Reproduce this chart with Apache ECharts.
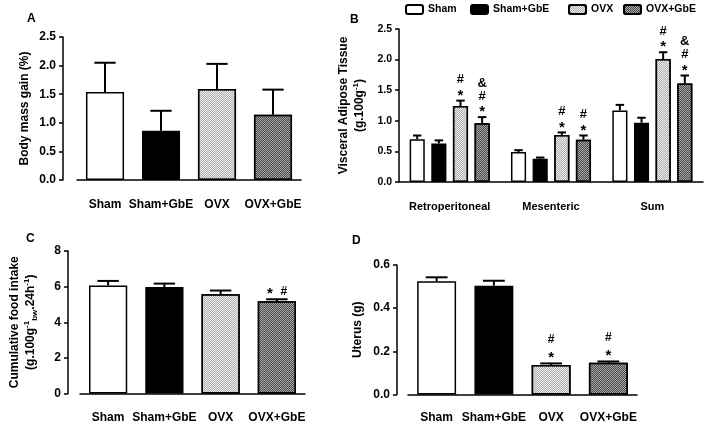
<!DOCTYPE html>
<html>
<head>
<meta charset="utf-8">
<script src="https://cdn.jsdelivr.net/npm/echarts@6/dist/echarts.min.js"></script>
<style>
  html, body { margin: 0; padding: 0; background: #fff; }
  #chart-container { width: 708px; height: 432px; }
</style>
</head>
<body>
<div id="chart-container"></div>
<script>
// Groups (A, C, D categories and B legend)
const groups = ["Sham", "Sham+GbE", "OVX", "OVX+GbE"];

// A - body mass gain (%)
const massGain = [1.54, 0.86, 1.59, 1.14];
const massGainSem = [0.51, 0.35, 0.44, 0.44];

// B - visceral adipose tissue (g.100g-1)
const depots = ["Retroperitoneal", "Mesenteric", "Sum"];
const fatSham = [0.70, 0.49, 1.17];
const fatShamSem = [0.06, 0.03, 0.09];
const fatShamGbE = [0.63, 0.38, 0.97];
const fatShamGbESem = [0.05, 0.02, 0.08];
const fatOvx = [1.24, 0.77, 2.01];
const fatOvxSem = [0.09, 0.04, 0.11];
const fatOvxGbE = [0.96, 0.69, 1.61];
const fatOvxGbESem = [0.10, 0.07, 0.13];
const fatOvxMarks = ["#\n*", "#\n*", "#\n*"];
const fatOvxGbEMarks = ["&\n#\n*", "#\n*", "&\n#\n*"];

// C - cumulative food intake
const foodIntake = [6.06, 5.98, 5.57, 5.18];
const foodIntakeSem = [0.26, 0.19, 0.21, 0.11];
const foodMarks = ["", "", "", "* #"];

// D - uterus (g)
const uterus = [0.525, 0.504, 0.137, 0.147];
const uterusSem = [0.018, 0.023, 0.007, 0.006];
const uterusMarks = ["", "", "#\n*", "#\n*"];

const FONT = "'Liberation Sans', Arial, sans-serif";

// bar fills, one per group
const dots = (c) => ({
  symbol: "rect",
  symbolSize: 1,
  color: c,
  dashArrayX: [[1, 1], [0, 1, 1, 0]],
  dashArrayY: [1, 0],
});
const fills = [
  { color: "#ffffff" },
  { color: "#000000" },
  { color: "#ececec", decal: dots("#b0b0b0") },
  { color: "#a8a8a8", decal: dots("#4a4a4a") },
];

function yAxis(grid, max, interval, digits, name, gap, offset, size) {
  return {
    type: "value",
    gridIndex: grid,
    min: 0,
    max: max,
    interval: interval,
    offset: offset,
    axisLine: { show: true, lineStyle: { color: "#000", width: 1.5 } },
    axisTick: { show: true, length: 4, lineStyle: { color: "#000", width: 1.5 } },
    splitLine: { show: false },
    axisLabel: {
      color: "#000", fontWeight: "bold", fontFamily: FONT, fontSize: size, margin: 7,
      formatter: (v) => v.toFixed(digits),
    },
    name: name,
    nameLocation: "middle",
    nameRotate: 90,
    nameGap: gap,
    nameTextStyle: {
      color: "#000", fontWeight: "bold", fontFamily: FONT, fontSize: 12, lineHeight: 16,
      rich: {
        sup: { fontSize: 8, fontWeight: "bold", fontFamily: FONT, color: "#000", verticalAlign: "top", lineHeight: 16, padding: [0, 0, 6, 0] },
        sub: { fontSize: 8, fontWeight: "bold", fontFamily: FONT, color: "#000", verticalAlign: "bottom", lineHeight: 16, padding: [5, 0, 0, 0] },
      },
    },
  };
}

function xAxis(grid, cats, offset, size) {
  return {
    type: "category",
    gridIndex: grid,
    data: cats,
    offset: offset,
    axisLine: { lineStyle: { color: "#000", width: 1.5 } },
    axisTick: { alignWithLabel: true, length: 4, lineStyle: { color: "#000", width: 1.5 } },
    axisLabel: { color: "#000", fontWeight: "bold", fontFamily: FONT, fontSize: size, margin: 6, interval: 0 },
  };
}

// error bars (upper only) + significance marks, placed on the bar slots
function errorSeries(axis, values, sems, marks, slot, opt) {
  return {
    type: "custom",
    xAxisIndex: axis,
    yAxisIndex: axis,
    silent: true,
    z: 5,
    data: values.map((v, i) => [i, v, sems[i]]),
    renderItem(params, api) {
      const i = api.value(0), v = api.value(1), e = api.value(2);
      const band = api.size([1, 0])[0];
      const groupW = band * (1 - opt.catGap);
      const barW = groupW / (opt.n + (opt.n - 1) * opt.barGap);
      const cx = api.coord([i, 0])[0] - groupW / 2 + barW / 2 + slot * barW * (1 + opt.barGap);
      const yBar = api.coord([i, v])[1];
      const yTop = api.coord([i, v + e])[1];
      const cap = barW * 0.28;
      const style = { stroke: "#000", lineWidth: 2 };
      const children = [
        { type: "line", shape: { x1: cx, y1: yBar, x2: cx, y2: yTop }, style },
        { type: "line", shape: { x1: cx - cap, y1: yTop, x2: cx + cap, y2: yTop }, style },
      ];
      const m = marks ? marks[params.dataIndex] : "";
      if (m) {
        m.split("\n").reverse().forEach((row, k) => {
          const toks = row.split(" ");
          toks.forEach((t, j) => {
            const star = t === "*";
            children.push({
              type: "text",
              style: {
                text: t,
                x: cx + (j - (toks.length - 1) / 2) * opt.tokStep,
                y: yTop - opt.markGap - k * opt.markStep + (star ? opt.starShift : 0),
                align: "center",
                verticalAlign: "middle",
                font: "bold " + (star ? opt.starSize : opt.markSize) + "px " + FONT,
                fill: "#000",
              },
            });
          });
        });
      }
      return { type: "group", children };
    },
  };
}

function singleBars(axis, values) {
  return {
    type: "bar",
    xAxisIndex: axis,
    yAxisIndex: axis,
    barCategoryGap: "32%",
    itemStyle: { borderColor: "#000", borderWidth: 1.5 },
    data: values.map((v, i) => ({ value: v, itemStyle: fills[i] })),
  };
}

const single = { n: 1, catGap: 0.32, barGap: 0, markGap: 8, markStep: 16, starShift: 2.5, markSize: 12, starSize: 15, tokStep: 14 };
const grouped = { n: 4, catGap: 0.21, barGap: 0.43, markGap: 8, markStep: 13, starShift: 3, markSize: 13, starSize: 15, tokStep: 14 };

const fatSeries = [fatSham, fatShamGbE, fatOvx, fatOvxGbE];
const fatSems = [fatShamSem, fatShamGbESem, fatOvxSem, fatOvxGbESem];
const fatMarks = [null, null, fatOvxMarks, fatOvxGbEMarks];
const legendLeft = [405, 470, 568, 623];

const letterStyle = { color: "#000", fontWeight: "bold", fontFamily: FONT, fontSize: 12 };

const dom = document.getElementById("chart-container");
const myChart = echarts.init(dom, null, { renderer: "canvas" });

const option = {
  backgroundColor: "#fff",
  animation: false,
  title: [
    { text: "A", left: 27, top: 13, padding: 0, textStyle: letterStyle },
    { text: "B", left: 350, top: 14, padding: 0, textStyle: letterStyle },
    { text: "C", left: 26, top: 233, padding: 0, textStyle: letterStyle },
    { text: "D", left: 352, top: 235, padding: 0, textStyle: letterStyle },
  ],
  legend: groups.map((g, k) => ({
    data: [g],
    left: legendLeft[k],
    top: 4,
    padding: 0,
    itemWidth: 17,
    itemHeight: 9,
    selectedMode: false,
    textStyle: { color: "#000", fontWeight: "bold", fontFamily: FONT, fontSize: 10.5 },
  })),
  grid: [
    { left: 77, top: 37, width: 224, height: 143 },
    { left: 399, top: 29, width: 304, height: 153 },
    { left: 80, top: 251, width: 225, height: 142.5 },
    { left: 408, top: 265, width: 229, height: 129.5 },
  ],
  xAxis: [
    xAxis(0, groups, 12.5, 12),
    xAxis(1, depots, 13, 11),
    xAxis(2, groups, 12.5, 12),
    xAxis(3, groups, 11.5, 12),
  ],
  yAxis: [
    yAxis(0, 2.5, 0.5, 1, "Body mass gain (%)", 30, 14, 12),
    yAxis(1, 2.5, 0.5, 1, "Visceral Adipose Tissue\n(g.100g{sup|-1})", 31, 0, 10.5),
    yAxis(2, 8, 2, 0, "Cumulative food intake\n(g.100g{sup|-1}{sub|bw}.24h{sup|-1})", 29, 12, 12),
    yAxis(3, 0.6, 0.2, 1, "Uterus (g)", 31, 11, 12),
  ],
  series: [
    singleBars(0, massGain),
    errorSeries(0, massGain, massGainSem, null, 0, single),
    ...groups.map((g, k) => ({
      type: "bar",
      name: g,
      xAxisIndex: 1,
      yAxisIndex: 1,
      barGap: "43%",
      barCategoryGap: "21%",
      itemStyle: Object.assign({ borderColor: "#000", borderWidth: 1.5 }, fills[k]),
      data: fatSeries[k],
    })),
    ...groups.map((g, k) => errorSeries(1, fatSeries[k], fatSems[k], fatMarks[k], k, grouped)),
    singleBars(2, foodIntake),
    errorSeries(2, foodIntake, foodIntakeSem, foodMarks, 0, single),
    singleBars(3, uterus),
    errorSeries(3, uterus, uterusSem, uterusMarks, 0, single),
  ],
};

myChart.setOption(option);
window.addEventListener("resize", myChart.resize);
</script>
</body>
</html>
